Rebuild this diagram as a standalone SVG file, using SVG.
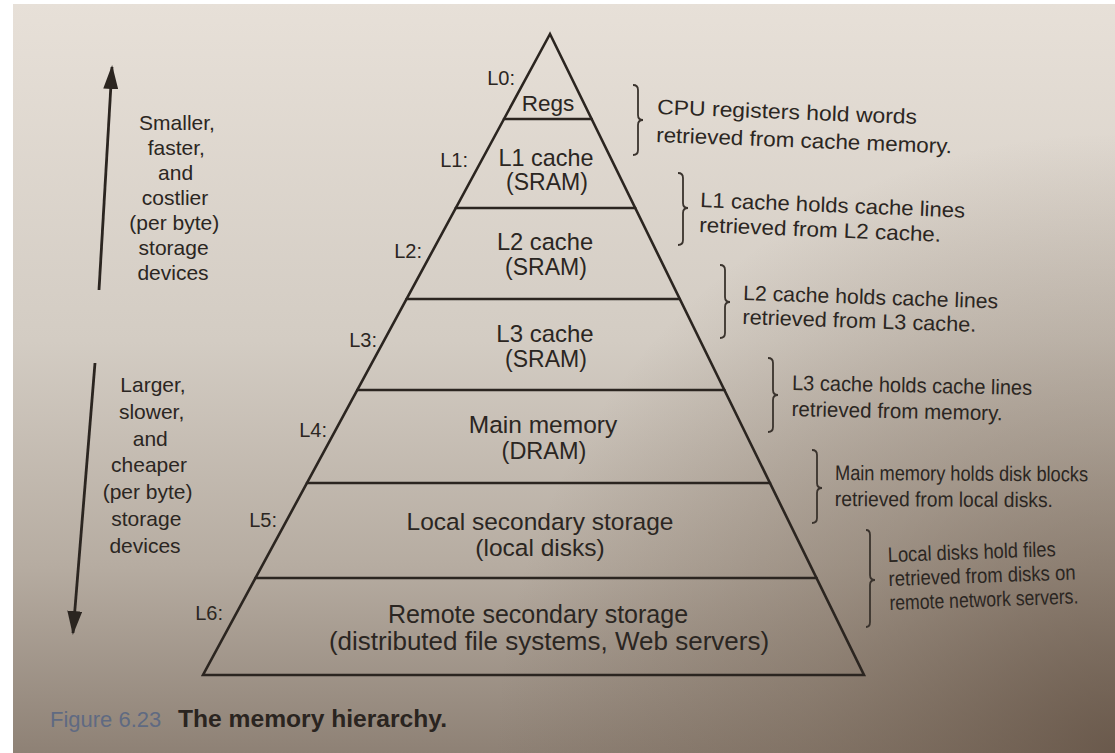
<svg xmlns="http://www.w3.org/2000/svg" width="1115" height="753" viewBox="0 0 1115 753">
  <defs>
    <linearGradient id="bgV" x1="0" y1="0" x2="0" y2="1">
      <stop offset="0" stop-color="#e7e0d8"/>
      <stop offset="0.45" stop-color="#d3ccc3"/>
      <stop offset="0.75" stop-color="#b6aca1"/>
      <stop offset="1" stop-color="#8e8175"/>
    </linearGradient>
    <radialGradient id="bgR" cx="1115" cy="753" r="620" gradientUnits="userSpaceOnUse">
      <stop offset="0" stop-color="#5e4c3e" stop-opacity="0.75"/>
      <stop offset="0.5" stop-color="#6a5848" stop-opacity="0.35"/>
      <stop offset="1" stop-color="#6a5848" stop-opacity="0"/>
    </radialGradient>
    <marker id="arrow" viewBox="0 0 24 15" refX="22" refY="7.5" markerWidth="24" markerHeight="15" markerUnits="userSpaceOnUse" orient="auto">
      <path d="M0,0 L24,7.5 L0,15 Z" fill="#2b2520"/>
    </marker>
    <style>
      text { font-family: "Liberation Sans", Arial, Helvetica, sans-serif; fill: #2b2622; }
      .tier { text-anchor: middle; }
      .lvl { font-size: 20px; text-anchor: end; }
      .side { font-size: 21px; text-anchor: middle; }
      .note { font-size: 21px; }
      .edge { stroke: #2b2520; stroke-width: 2.6; fill: none; stroke-linecap: round; }
      .brace { stroke: #3a332d; stroke-width: 1.8; fill: none; }
      .arr { stroke: #2b2520; stroke-width: 2.8; fill: none; }
    </style>
  </defs>

  <!-- photographed page background -->
  <rect x="0" y="0" width="1115" height="753" fill="#ffffff"/>
  <rect x="13" y="4" width="1102" height="749" fill="url(#bgV)"/>
  <rect x="13" y="4" width="1102" height="749" fill="url(#bgR)"/>

  <!-- pyramid outline -->
  <g id="pyramid">
    <polygon class="edge" points="550,34 203,675 864,675"/>
  </g>

  <g id="L0">
    <text class="lvl" x="515" y="85">L0:</text>
    <text class="tier" x="548" y="111" font-size="22.5">Regs</text>
    <line class="edge" x1="504" y1="119" x2="591.6" y2="119"/>
  </g>
  <g id="L1">
    <text class="lvl" x="468" y="167">L1:</text>
    <text class="tier" x="546" y="166" font-size="23.4">L1 cache</text>
    <text class="tier" x="547" y="190" font-size="23">(SRAM)</text>
    <line class="edge" x1="455.8" y1="208" x2="635.2" y2="208"/>
  </g>
  <g id="L2">
    <text class="lvl" x="422" y="258">L2:</text>
    <text class="tier" x="545" y="250" font-size="23.7">L2 cache</text>
    <text class="tier" x="546" y="275" font-size="23">(SRAM)</text>
    <line class="edge" x1="406.6" y1="299" x2="679.8" y2="299"/>
  </g>
  <g id="L3">
    <text class="lvl" x="377" y="347">L3:</text>
    <text class="tier" x="545" y="342" font-size="24">L3 cache</text>
    <text class="tier" x="546" y="367" font-size="23">(SRAM)</text>
    <line class="edge" x1="357.3" y1="390" x2="724.4" y2="390"/>
  </g>
  <g id="L4">
    <text class="lvl" x="327" y="437">L4:</text>
    <text class="tier" x="543" y="433" font-size="24.5">Main memory</text>
    <text class="tier" x="544" y="459" font-size="23.5">(DRAM)</text>
    <line class="edge" x1="307" y1="483" x2="770" y2="483"/>
  </g>
  <g id="L5">
    <text class="lvl" x="277" y="527">L5:</text>
    <text class="tier" x="540" y="530" font-size="24.5">Local secondary storage</text>
    <text class="tier" x="540" y="556" font-size="24.5">(local disks)</text>
    <line class="edge" x1="255.5" y1="578" x2="816.5" y2="578"/>
  </g>
  <g id="L6">
    <text class="lvl" x="223" y="620">L6:</text>
    <text class="tier" x="538" y="623" font-size="25">Remote secondary storage</text>
    <text class="tier" x="549" y="650" font-size="26">(distributed file systems, Web servers)</text>
  </g>

  <!-- left side captions -->
  <g id="up-label">
    <text class="side" x="177" y="130">Smaller,</text>
    <text class="side" x="176.3" y="155">faster,</text>
    <text class="side" x="175.6" y="180">and</text>
    <text class="side" x="175" y="205">costlier</text>
    <text class="side" x="174.3" y="230">(per byte)</text>
    <text class="side" x="173.6" y="255">storage</text>
    <text class="side" x="173" y="280">devices</text>
  </g>
  <g id="down-label">
    <text class="side" x="153" y="392">Larger,</text>
    <text class="side" x="151.6" y="419">slower,</text>
    <text class="side" x="150.3" y="446">and</text>
    <text class="side" x="149" y="472">cheaper</text>
    <text class="side" x="147.6" y="499">(per byte)</text>
    <text class="side" x="146.3" y="526">storage</text>
    <text class="side" x="145" y="553">devices</text>
  </g>

  <!-- right side annotations -->
  <g id="note0">
    <path class="brace" d="M633,85 Q638,85 638,90 L638,115 Q638,120 643,120 Q638,120 638,125 L638,150 Q638,155 633,155"/>
    <g transform="rotate(2.2 657 114)">
      <text class="note" x="657" y="114" textLength="260" lengthAdjust="spacingAndGlyphs">CPU registers hold words</text>
      <text class="note" x="657" y="142" textLength="296" lengthAdjust="spacingAndGlyphs">retrieved from cache memory.</text>
    </g>
  </g>
  <g id="note1">
    <path class="brace" d="M678,173 Q683,173 683,178 L683,203 Q683,208 688,208 Q683,208 683,213 L683,240 Q683,245 678,245"/>
    <g transform="rotate(2.3 700 207)">
      <text class="note" x="700" y="207" textLength="265" lengthAdjust="spacingAndGlyphs">L1 cache holds cache lines</text>
      <text class="note" x="700" y="232" textLength="242" lengthAdjust="spacingAndGlyphs">retrieved from L2 cache.</text>
    </g>
  </g>
  <g id="note2">
    <path class="brace" d="M720,265 Q725,265 725,270 L725,297 Q725,302 730,302 Q725,302 725,307 L725,333 Q725,338 720,338"/>
    <g transform="rotate(1.9 743 300)">
      <text class="note" x="743" y="300" textLength="255" lengthAdjust="spacingAndGlyphs">L2 cache holds cache lines</text>
      <text class="note" x="743" y="324" textLength="234" lengthAdjust="spacingAndGlyphs">retrieved from L3 cache.</text>
    </g>
  </g>
  <g id="note3">
    <path class="brace" d="M768,358 Q773,358 773,363 L773,390 Q773,395 778,395 Q773,395 773,400 L773,427 Q773,432 768,432"/>
    <g transform="rotate(1.2 792 390)">
      <text class="note" x="792" y="390" font-size="20" textLength="240" lengthAdjust="spacingAndGlyphs">L3 cache holds cache lines</text>
      <text class="note" x="792" y="416" font-size="20" textLength="211" lengthAdjust="spacingAndGlyphs">retrieved from memory.</text>
    </g>
  </g>
  <g id="note4">
    <path class="brace" d="M812,450 Q817,450 817,455 L817,483 Q817,488 822,488 Q817,488 817,493 L817,518 Q817,523 812,523"/>
    <g transform="rotate(0.3 835 480)">
      <text class="note" x="835" y="480" font-size="17.5" textLength="253" lengthAdjust="spacingAndGlyphs">Main memory holds disk blocks</text>
      <text class="note" x="835" y="506" font-size="17.5" textLength="218" lengthAdjust="spacingAndGlyphs">retrieved from local disks.</text>
    </g>
  </g>
  <g id="note5">
    <path class="brace" d="M866,530 Q870,530 870,535 L870,575 Q870,580 875,580 Q870,580 870,585 L870,622 Q870,627 866,627"/>
    <g transform="rotate(-2 888 562)">
      <text class="note" x="888" y="562" font-size="18" textLength="168" lengthAdjust="spacingAndGlyphs">Local disks hold files</text>
      <text class="note" x="888" y="586" font-size="18" textLength="187" lengthAdjust="spacingAndGlyphs">retrieved from disks on</text>
      <text class="note" x="888" y="610" font-size="18" textLength="189" lengthAdjust="spacingAndGlyphs">remote network servers.</text>
    </g>
  </g>

  <!-- connectors: direction arrows -->
  <g id="connectors">
    <line class="arr" x1="99" y1="290" x2="112" y2="67" marker-end="url(#arrow)"/>
    <line class="arr" x1="95" y1="363" x2="73" y2="633" marker-end="url(#arrow)"/>
  </g>

  <!-- figure caption -->
  <g id="caption">
    <text x="50" y="727" font-size="22" style="fill:#5f6a82">Figure 6.23</text>
    <text x="178" y="727" font-size="23" font-weight="bold" textLength="269" lengthAdjust="spacingAndGlyphs" style="fill:#2a2420">The memory hierarchy.</text>
  </g>
</svg>
